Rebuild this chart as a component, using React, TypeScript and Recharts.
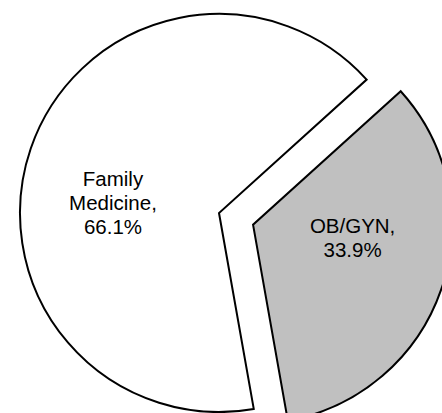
import React from 'react'
import { PieChart, Pie, Cell } from 'recharts'

// specialty share of respondents
const specialties = ['Family Medicine', 'OB/GYN']
const shares = [66.1, 33.9]
const fills = ['#ffffff', '#c0c0c0']
// label placement: angle (deg) and distance as fraction of radius from each slice's own center
const labelAngles = [178.4, -11.8]
const labelDist = [0.533, 0.511]

const data = specialties.map((name, i) => ({ name, value: shares[i] }))

const R = 199
const START = 42.1
const EXPLODE = 36

const FONT = '"Liberation Sans", Arial, sans-serif'

function makeLabel(show: number) {
  return (props: any) => {
    const { cx, cy, outerRadius, index } = props
    if (index !== show) return null
    const a = (labelAngles[index] * Math.PI) / 180
    const r = outerRadius * labelDist[index]
    const x = cx + r * Math.cos(a)
    const y = cy - r * Math.sin(a)
    const name = specialties[index]
    const words = index === 0 ? ['Family', 'Medicine,'] : [name + ',']
    const lines = [...words, shares[index].toFixed(1) + '%']
    const lh = 24
    const top = y - ((lines.length - 1) * lh) / 2
    return (
      <text x={x} y={top} textAnchor="middle" fontFamily={FONT} fontSize={20.5} fill="#000">
        {lines.map((l, k) => (
          <tspan key={k} x={x} y={top + k * lh}>
            {l}
          </tspan>
        ))}
      </text>
    )
  }
}

export default function App() {
  const cx = 214
  const cy = 208
  // explode OB/GYN along its mid angle
  const obStart = START + (360 * shares[0]) / 100
  const obMid = ((obStart + START + 360) / 2) * (Math.PI / 180)
  const cx2 = cx + EXPLODE * Math.cos(obMid)
  const cy2 = cy - EXPLODE * Math.sin(obMid)

  return (
    <div style={{ position: 'absolute', left: 0, top: 0, background: '#fff' }}>
      <PieChart width={442} height={413}>
        <Pie
          data={data}
          dataKey="value"
          cx={cx}
          cy={cy}
          outerRadius={R}
          startAngle={START}
          endAngle={START + 360}
          isAnimationActive={false}
          labelLine={false}
          label={makeLabel(0)}
        >
          {data.map((d, i) => (
            <Cell
              key={d.name}
              fill={i === 0 ? fills[0] : 'none'}
              stroke={i === 0 ? '#000' : 'none'}
              strokeWidth={2}
            />
          ))}
        </Pie>
        <Pie
          data={data}
          dataKey="value"
          cx={cx2}
          cy={cy2}
          outerRadius={R}
          startAngle={START}
          endAngle={START + 360}
          isAnimationActive={false}
          labelLine={false}
          label={makeLabel(1)}
        >
          {data.map((d, i) => (
            <Cell
              key={d.name}
              fill={i === 1 ? fills[1] : 'none'}
              stroke={i === 1 ? '#000' : 'none'}
              strokeWidth={2}
            />
          ))}
        </Pie>
      </PieChart>
    </div>
  )
}
